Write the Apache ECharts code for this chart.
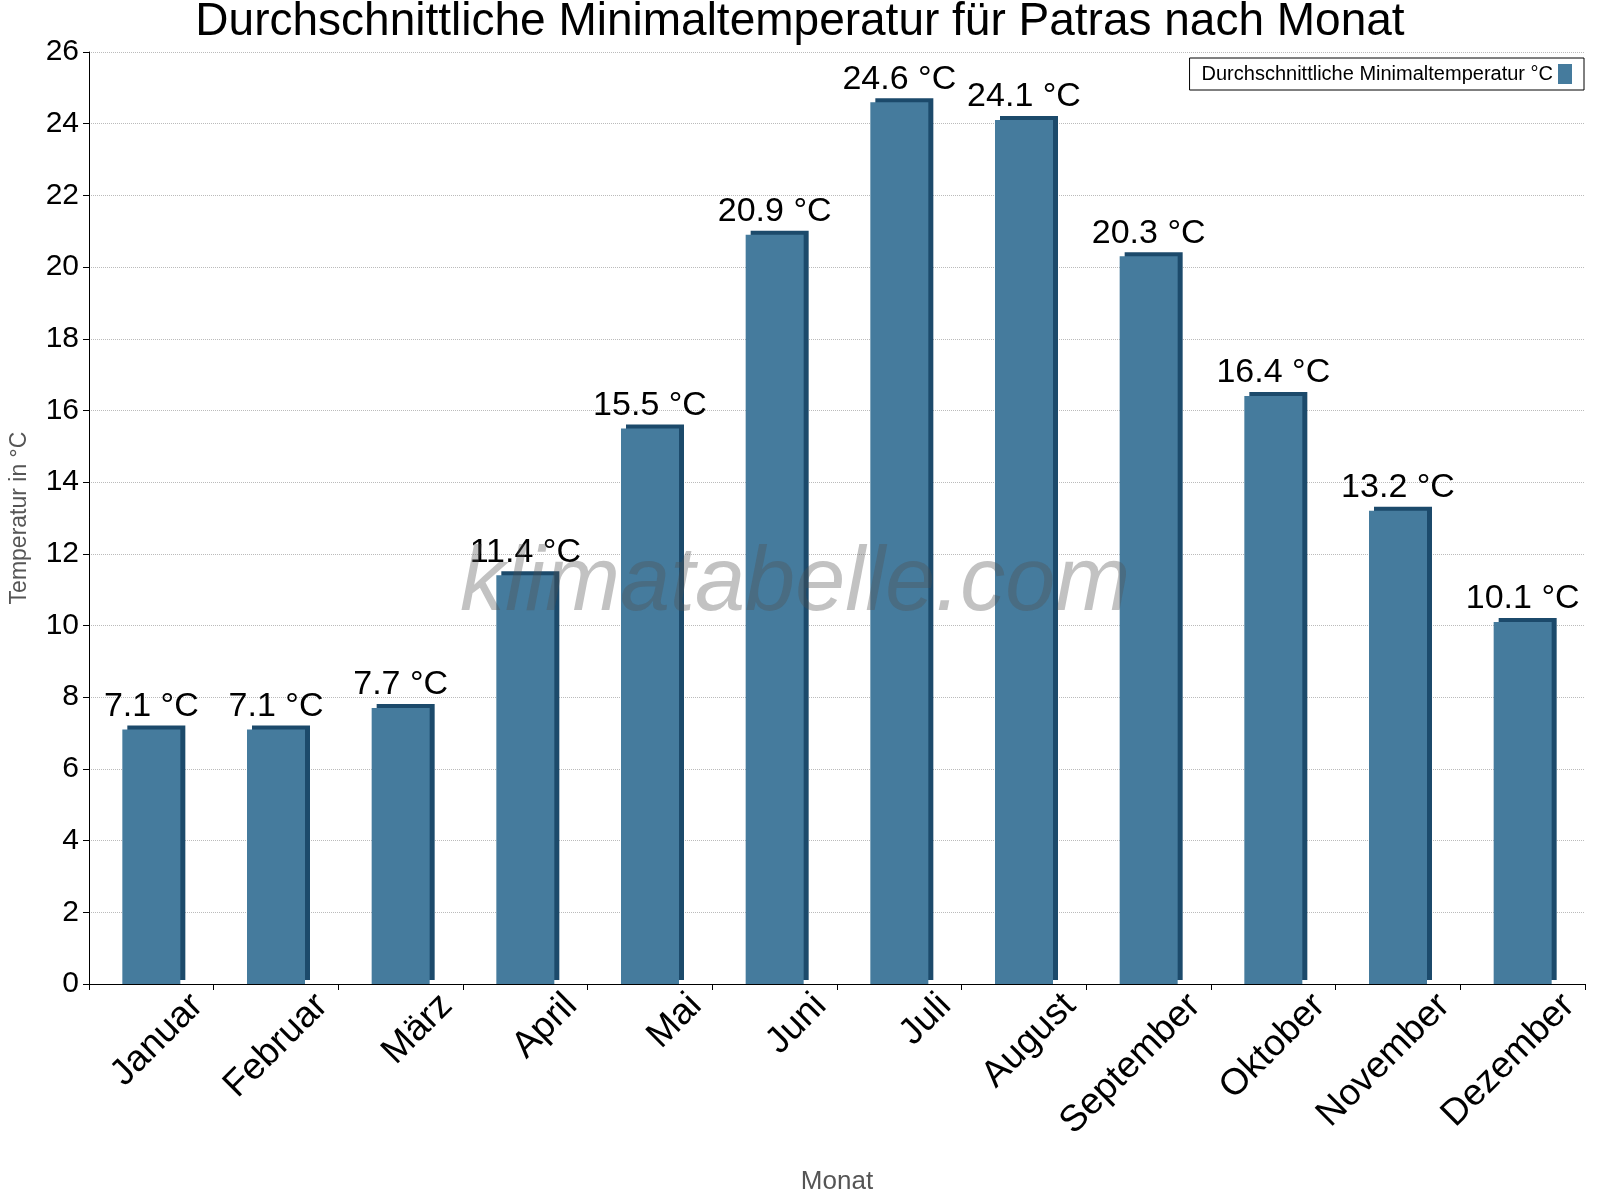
<!DOCTYPE html>
<html><head><meta charset="utf-8">
<script src="https://cdn.jsdelivr.net/npm/echarts@6/dist/echarts.min.js"></script>
<style>html,body{margin:0;padding:0;background:#fff}#c{width:1600px;height:1200px}</style>
</head><body><div id="c"></div>
<script>
const months = ["Januar","Februar","März","April","Mai","Juni","Juli","August","September","Oktober","November","Dezember"];
const minTemp = [7.1,7.1,7.7,11.4,15.5,20.9,24.6,24.1,20.3,16.4,13.2,10.1];
const yTicks = {min:0,max:26,interval:2};
const chart = echarts.init(document.getElementById('c'));
chart.setOption({
  backgroundColor:'#fff',
  animation:false,
  title:{text:'Durchschnittliche Minimaltemperatur für Patras nach Monat',left:'center',top:-6,
    textStyle:{fontFamily:'Liberation Sans',fontSize:46,fontWeight:'normal',color:'#000'}},
  legend:{right:16,top:58,orient:'horizontal',itemWidth:14,itemHeight:20,icon:'rect',align:'right',
    borderColor:'#000',borderWidth:1,borderRadius:0,padding:[6,12],
    textStyle:{fontFamily:'Liberation Sans',fontSize:20,color:'#000'}},
  grid:{left:85,right:15,top:52,bottom:205,containLabel:false},
  xAxis:{type:'category',data:months,name:'Monat',nameLocation:'middle',nameGap:185,
    nameTextStyle:{fontFamily:'Liberation Sans',fontSize:26,color:'#555'},
    axisLine:{lineStyle:{color:'#000'}},axisTick:{show:true,length:6,lineStyle:{color:'#000'}},
    axisLabel:{rotate:45,align:'center',verticalAlign:'middle',margin:62,
      formatter:v=>'{a|'+v+'}',
      rich:{a:{width:130,align:'right',fontFamily:'Liberation Sans',fontSize:37,color:'#000'}},
      fontFamily:'Liberation Sans',fontSize:37,color:'#000'}},
  yAxis:{type:'value',min:yTicks.min,max:yTicks.max,interval:yTicks.interval,
    name:'Temperatur in °C',nameLocation:'middle',nameGap:58,
    nameTextStyle:{fontFamily:'Liberation Sans',fontSize:23,color:'#555'},
    axisLine:{show:true,lineStyle:{color:'#000'}},axisTick:{show:true,length:6,lineStyle:{color:'#000'}},
    axisLabel:{fontFamily:'Liberation Sans',fontSize:30,color:'#000',margin:10},
    splitLine:{lineStyle:{color:'#bbb',type:'dotted'}}},
  graphic:[{type:'text',left:460,top:540,z:100,
    style:{text:'klimatabelle.com',font:'italic 90px "Liberation Sans"',fill:'rgba(80,80,80,0.35)'}}],
  series:[{type:'bar',name:'Durchschnittliche Minimaltemperatur °C',data:minTemp,barWidth:58,
    itemStyle:{color:'#457b9d',shadowColor:'#1c4a6b',shadowBlur:0,shadowOffsetX:5,shadowOffsetY:-4},
    label:{show:true,position:'top',distance:6,formatter:p=>p.value.toFixed(1)+' °C',
      fontFamily:'Liberation Sans',fontSize:34,color:'#000'}}]
});
</script></body></html>
